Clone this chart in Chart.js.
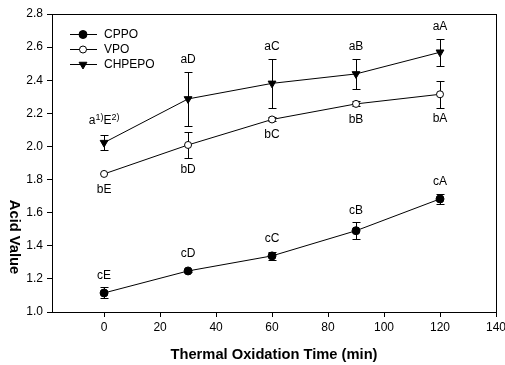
<!DOCTYPE html>
<html>
<head>
<meta charset="utf-8">
<script src="https://cdn.jsdelivr.net/npm/chart.js@4/dist/chart.umd.min.js"></script>
<style>
  body { margin: 0; background: #fff; }
  #wrap { width: 505px; height: 365px; }
</style>
</head>
<body>
<div id="wrap"><canvas id="acidChart"></canvas></div>
<script>
// data
const times = [0, 30, 60, 90, 120];

const cppo = [1.115, 1.248, 1.339, 1.491, 1.683];
const cppoErr = [0.033, 0.008, 0.022, 0.05, 0.028];
const cppoLabels = ['cE', 'cD', 'cC', 'cB', 'cA'];

const vpo = [1.834, 2.009, 2.163, 2.257, 2.315];
const vpoErr = [0, 0.08, 0.012, 0.015, 0.08];
const vpoLabels = ['bE', 'bD', 'bC', 'bB', 'bA'];

const chpepo = [2.023, 2.287, 2.381, 2.438, 2.569];
const chpepoErr = [0.045, 0.165, 0.148, 0.09, 0.083];
const chpepoLabels = ['a^1)E^2)', 'aD', 'aC', 'aB', 'aA'];

const xTicks = [0, 20, 40, 60, 80, 100, 120, 140];
const yTicks = [1.0, 1.2, 1.4, 1.6, 1.8, 2.0, 2.2, 2.4, 2.6, 2.8];

const xTitle = 'Thermal Oxidation Time (min)';
const yTitle = 'Acid Value';

const FONT = "'Liberation Sans', Arial, sans-serif";

function points(ys) {
    return times.map((t, i) => ({ x: t, y: ys[i] }));
}

// error bars, letters, legend, y title and the box round the plot
const extras = {
    id: 'extras',
    beforeDatasetsDraw(chart) {
        const ctx = chart.ctx;
        const xs = chart.scales.x, ys = chart.scales.y;
        ctx.save();
        ctx.strokeStyle = '#000';
        ctx.lineWidth = 1;
        chart.data.datasets.forEach(ds => {
            ds.data.forEach((p, i) => {
                const e = ds.errors[i];
                if (!e) return;
                const x = Math.round(xs.getPixelForValue(p.x)) + 0.5;
                const y1 = Math.round(ys.getPixelForValue(p.y + e)) + 0.5;
                const y2 = Math.round(ys.getPixelForValue(p.y - e)) + 0.5;
                ctx.beginPath();
                ctx.moveTo(x, y1); ctx.lineTo(x, y2);
                ctx.moveTo(x - 4, y1); ctx.lineTo(x + 4, y1);
                ctx.moveTo(x - 4, y2); ctx.lineTo(x + 4, y2);
                ctx.stroke();
            });
        });
        ctx.restore();
    },
    afterDatasetsDraw(chart) {
        const ctx = chart.ctx;
        const xs = chart.scales.x, ys = chart.scales.y;
        const a = chart.chartArea;
        ctx.save();
        ctx.fillStyle = '#000';
        ctx.textBaseline = 'middle';

        chart.data.datasets.forEach(ds => {
            ds.data.forEach((p, i) => {
                const e = ds.errors[i];
                const r = ds.pointRadius + 1;
                const x = xs.getPixelForValue(p.x);
                let y;
                if (ds.labelSide === 'above') {
                    y = Math.min(ys.getPixelForValue(p.y + e), ys.getPixelForValue(p.y) - r) - 12;
                } else {
                    y = Math.max(ys.getPixelForValue(p.y - e), ys.getPixelForValue(p.y) + r) + 11;
                }
                drawLabel(ctx, ds.letters[i], x, y);
            });
        });

        // legend
        chart.data.datasets.forEach((ds, i) => {
            const y = 34 + i * 15;
            ctx.strokeStyle = '#000';
            ctx.lineWidth = 1;
            ctx.beginPath();
            ctx.moveTo(70, y + 0.5); ctx.lineTo(97, y + 0.5);
            ctx.stroke();
            ctx.fillStyle = ds.pointBackgroundColor;
            ctx.strokeStyle = '#000';
            ctx.lineWidth = ds.pointBorderWidth;
            Chart.helpers.drawPoint(ctx, {
                pointStyle: ds.pointStyle, radius: ds.pointRadius,
                rotation: ds.pointRotation || 0, borderWidth: ds.pointBorderWidth
            }, 83, y + 0.5);
            ctx.fillStyle = '#000';
            ctx.font = '12px ' + FONT;
            ctx.textAlign = 'left';
            ctx.fillText(ds.label, 104, y + 1);
        });

        // y title reads downwards in the original
        ctx.save();
        ctx.translate(14, 237);
        ctx.rotate(Math.PI / 2);
        ctx.font = 'bold 14.7px ' + FONT;
        ctx.textAlign = 'center';
        ctx.fillStyle = '#000';
        ctx.fillText(yTitle, 0, 0);
        ctx.restore();

        // frame
        ctx.strokeStyle = '#000';
        ctx.lineWidth = 1;
        ctx.strokeRect(Math.round(a.left) + 0.5, Math.round(a.top) + 0.5,
            Math.round(a.right - a.left), Math.round(a.bottom - a.top));
        ctx.restore();
    }
};

// "a^1)E^2)" -> a, superscript 1), E, superscript 2)
function drawLabel(ctx, text, x, y) {
    const parts = [];
    text.split(/(\^[^)]*\))/).forEach(s => {
        if (!s) return;
        if (s[0] === '^') parts.push({ t: s.slice(1), sup: true });
        else parts.push({ t: s, sup: false });
    });
    const sup = parts.some(p => p.sup);
    let w = 0;
    parts.forEach(p => {
        ctx.font = (p.sup ? '9px ' : '12px ') + FONT;
        p.w = ctx.measureText(p.t).width;
        w += p.w;
    });
    let cx = x - w / 2;
    const base = sup ? y - 2 : y;
    ctx.textAlign = 'left';
    parts.forEach(p => {
        ctx.font = (p.sup ? '9px ' : '12px ') + FONT;
        ctx.fillText(p.t, cx, p.sup ? base - 4 : base);
        cx += p.w;
    });
}

const ctx = document.getElementById('acidChart').getContext('2d');

new Chart(ctx, {
    type: 'scatter',
    data: {
        datasets: [{
            label: 'CPPO',
            data: points(cppo),
            errors: cppoErr,
            letters: cppoLabels,
            labelSide: 'above',
            showLine: true,
            borderColor: '#000',
            borderWidth: 1,
            pointStyle: 'circle',
            pointRadius: 4,
            pointBackgroundColor: '#000',
            pointBorderColor: '#000',
            pointBorderWidth: 1
        }, {
            label: 'VPO',
            data: points(vpo),
            errors: vpoErr,
            letters: vpoLabels,
            labelSide: 'below',
            showLine: true,
            borderColor: '#000',
            borderWidth: 1,
            pointStyle: 'circle',
            pointRadius: 3.5,
            pointBackgroundColor: '#fff',
            pointBorderColor: '#000',
            pointBorderWidth: 1
        }, {
            label: 'CHPEPO',
            data: points(chpepo),
            errors: chpepoErr,
            letters: chpepoLabels,
            labelSide: 'above',
            showLine: true,
            borderColor: '#000',
            borderWidth: 1,
            pointStyle: 'triangle',
            pointRotation: 180,
            pointRadius: 4.5,
            pointBackgroundColor: '#000',
            pointBorderColor: '#000',
            pointBorderWidth: 1
        }]
    },
    options: {
        responsive: true,
        maintainAspectRatio: false,
        animation: false,
        layout: { padding: { left: 0, top: 14, right: 9, bottom: 0 } },
        plugins: {
            legend: { display: false },
            tooltip: { enabled: false }
        },
        elements: { line: { tension: 0 } },
        scales: {
            x: {
                type: 'linear',
                min: -18.6,
                max: 140,
                afterBuildTicks: s => { s.ticks = xTicks.map(v => ({ value: v })); },
                afterFit: s => { s.height = 53; s.paddingLeft = 0; s.paddingRight = 0; },
                grid: { drawOnChartArea: false, drawTicks: true, tickLength: 5, color: '#000' },
                border: { display: true, color: '#000' },
                ticks: { color: '#000', padding: 3, maxRotation: 0, font: { family: FONT, size: 12 } },
                title: {
                    display: true,
                    text: xTitle,
                    color: '#000',
                    font: { family: FONT, size: 14.7, weight: 'bold' },
                    padding: { top: 0, bottom: 1 }
                }
            },
            y: {
                type: 'linear',
                min: 1.0,
                max: 2.8,
                afterBuildTicks: s => { s.ticks = yTicks.map(v => ({ value: v })); },
                afterFit: s => { s.width = 52; s.paddingTop = 0; s.paddingBottom = 0; },
                grid: { drawOnChartArea: false, drawTicks: true, tickLength: 5, color: '#000' },
                border: { display: true, color: '#000' },
                ticks: {
                    color: '#000', padding: 4,
                    font: { family: FONT, size: 12 },
                    callback: v => v.toFixed(1)
                },
                title: { display: false }
            }
        }
    },
    plugins: [extras]
});
</script>
</body>
</html>
